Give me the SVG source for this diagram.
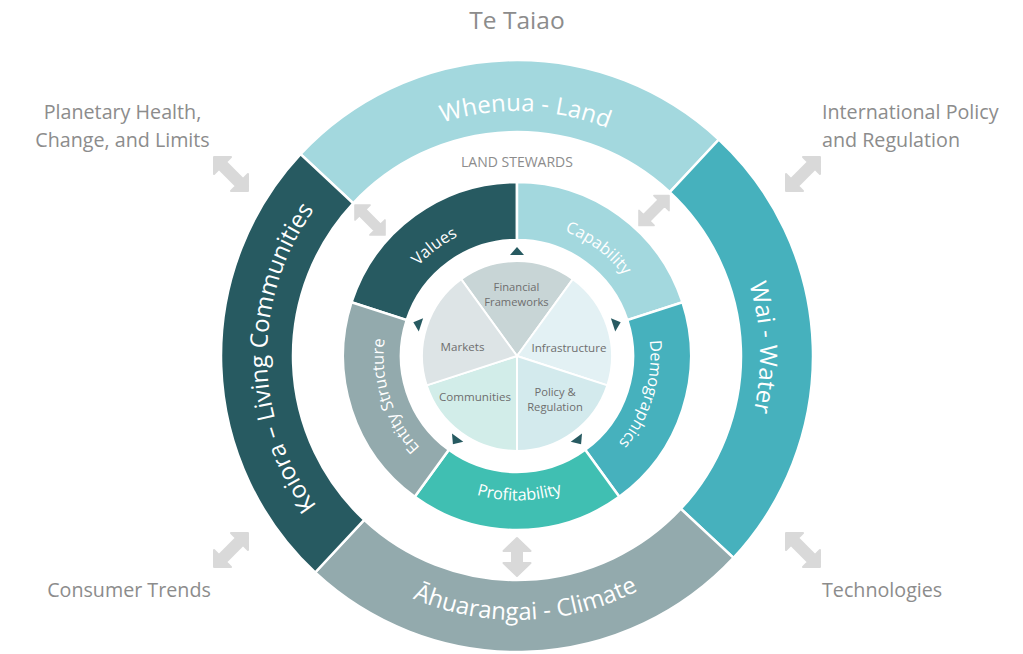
<svg xmlns="http://www.w3.org/2000/svg" width="1023" height="654" viewBox="0 0 1023 654">
<style>
.seg{stroke:#fff;stroke-width:2.5}
.pie{stroke:#fff;stroke-width:2}
.f{font-family:"Open Sans","Noto Sans","DejaVu Sans",sans-serif}
.ot{font-size:24px;fill:#fff}
.mt{font-size:16.3px;fill:#fff}
.pt{font-size:11.6px;fill:#6e6e6e;text-anchor:middle}
.pt2{font-size:11.2px}
.lbl{font-size:19.7px;fill:#8c8c8c}
.arr{fill:#d9d9d9;stroke:#d9d9d9;stroke-width:2;stroke-linejoin:round}
.tri{fill:#275a61}
</style>
<defs>
<path id="pW" d="M 349.91 176.82 A 245 245 0 0 1 696.18 188.91"/>
<path id="pWa" d="M 682.73 178.28 A 243 243 0 0 1 694.72 521.73"/>
<path id="pC" d="M 336.95 549.08 A 264 264 0 0 0 710.08 536.05"/>
<path id="pK" d="M 341.77 534.31 A 250 250 0 0 1 338.69 180.77"/>
<path id="pV" d="M 386.92 325.97 A 133.5 133.5 0 0 1 523.99 222.68"/>
<path id="pCa" d="M 510.01 222.68 A 133.5 133.5 0 0 1 647.08 325.97"/>
<path id="pD" d="M 639.89 303.84 A 133.5 133.5 0 0 1 589.71 467.96"/>
<path id="pE" d="M 446.26 469.21 A 133.5 133.5 0 0 1 393.22 305.99"/>
<path id="pP" d="M 426.06 468.30 A 144.5 144.5 0 0 0 611.80 465.06"/>
<path id="dArr" d="M -24 0 L -12 -12 L -12 -5 L 12 -5 L 12 -12 L 24 0 L 12 12 L 12 5 L -12 5 L -12 12 Z"/>
<path id="vArr" d="M 0 -19 L 13.5 -6 L 5 -6 L 5 6 L 13.5 6 L 0 19 L -13.5 6 L -5 6 L -5 -6 L -13.5 -6 Z"/>
<path id="tri" d="M -7 -101 L 7 -101 L 0 -109 Z"/>
</defs>

<text class="f" x="517" y="29" text-anchor="middle" font-size="24.5" fill="#8c8c8c">Te Taiao</text>

<g id="outer-ring">
<g id="whenua">
<path class="seg" fill="#a3d8de" d="M 300.52 154.13 A 296 296 0 0 1 718.87 139.52 L 669.77 192.18 A 224 224 0 0 0 353.18 203.23 Z"/>
<text class="f ot"><textPath href="#pW" startOffset="50%" text-anchor="middle">Whenua - Land</textPath></text>
</g>
<g id="wai">
<path class="seg" fill="#46b1bd" d="M 718.87 139.52 A 296 296 0 0 1 733.48 557.87 L 680.82 508.77 A 224 224 0 0 0 669.77 192.18 Z"/>
<text class="f ot"><textPath href="#pWa" startOffset="50%" text-anchor="middle">Wai - Water</textPath></text>
</g>
<g id="ahuarangai">
<path class="seg" fill="#93aaad" d="M 733.48 557.87 A 296 296 0 0 1 315.13 572.48 L 364.23 519.82 A 224 224 0 0 0 680.82 508.77 Z"/>
<text class="f ot"><textPath href="#pC" startOffset="50%" text-anchor="middle">Āhuarangai - Climate</textPath></text>
</g>
<g id="koiora">
<path class="seg" fill="#275a61" d="M 315.13 572.48 A 296 296 0 0 1 300.52 154.13 L 353.18 203.23 A 224 224 0 0 0 364.23 519.82 Z"/>
<text class="f ot" font-size="22.8"><textPath href="#pK" startOffset="50%" text-anchor="middle">Koiora – Living Communities</textPath></text>
</g>
</g>

<text id="land-stewards" class="f" x="517" y="167.3" text-anchor="middle" font-size="14" fill="#8c8c8c">LAND STEWARDS</text>

<g id="middle-ring">
<g id="values">
<path class="seg" fill="#275a61" d="M 351.52 302.23 A 174 174 0 0 1 517 182 L 517 240 A 116 116 0 0 0 406.68 320.15 Z"/>
<text class="f mt"><textPath href="#pV" startOffset="50%" text-anchor="middle">Values</textPath></text>
</g>
<g id="capability">
<path class="seg" fill="#a3d8de" d="M 517 182 A 174 174 0 0 1 682.48 302.23 L 627.32 320.15 A 116 116 0 0 0 517 240 Z"/>
<text class="f mt"><textPath href="#pCa" startOffset="50%" text-anchor="middle">Capability</textPath></text>
</g>
<g id="demographics">
<path class="seg" fill="#46b1bd" d="M 682.48 302.23 A 174 174 0 0 1 619.28 496.77 L 585.18 449.85 A 116 116 0 0 0 627.32 320.15 Z"/>
<text class="f mt"><textPath href="#pD" startOffset="50%" text-anchor="middle">Demographics</textPath></text>
</g>
<g id="profitability">
<path class="seg" fill="#40bfb2" d="M 619.28 496.77 A 174 174 0 0 1 414.72 496.77 L 448.82 449.85 A 116 116 0 0 0 585.18 449.85 Z"/>
<text class="f mt"><textPath href="#pP" startOffset="50%" text-anchor="middle">Profitability</textPath></text>
</g>
<g id="entity-structure">
<path class="seg" fill="#93aaad" d="M 414.72 496.77 A 174 174 0 0 1 351.52 302.23 L 406.68 320.15 A 116 116 0 0 0 448.82 449.85 Z"/>
<text class="f mt"><textPath href="#pE" startOffset="50%" text-anchor="middle">Entity Structure</textPath></text>
</g>
</g>

<g id="pie">
<g id="financial-frameworks">
<path class="pie" fill="#c8d5d6" d="M 517 356 L 461.16 279.14 A 95 95 0 0 1 572.84 279.14 Z"/>
<text class="f pt pt2" x="516.5" y="290.6">Financial<tspan x="516.5" dy="15.4">Frameworks</tspan></text>
</g>
<g id="infrastructure">
<path class="pie" fill="#e3f1f4" d="M 517 356 L 572.84 279.14 A 95 95 0 0 1 607.35 385.36 Z"/>
<text class="f pt" x="569" y="351.5">Infrastructure</text>
</g>
<g id="policy-regulation">
<path class="pie" fill="#d3eaed" d="M 517 356 L 607.35 385.36 A 95 95 0 0 1 517 451 Z"/>
<text class="f pt pt2" x="555" y="395.6">Policy &amp;<tspan x="555" dy="15.4">Regulation</tspan></text>
</g>
<g id="communities">
<path class="pie" fill="#d2ede9" d="M 517 356 L 517 451 A 95 95 0 0 1 426.65 385.36 Z"/>
<text class="f pt" x="475" y="401">Communities</text>
</g>
<g id="markets">
<path class="pie" fill="#dde4e6" d="M 517 356 L 426.65 385.36 A 95 95 0 0 1 461.16 279.14 Z"/>
<text class="f pt" x="462.5" y="351">Markets</text>
</g>
</g>

<g id="connectors">
<g id="cycle-markers" class="tri">
<use href="#tri" transform="translate(517 356)"/>
<use href="#tri" transform="translate(517 356) rotate(72)"/>
<use href="#tri" transform="translate(517 356) rotate(144)"/>
<use href="#tri" transform="translate(517 356) rotate(216)"/>
<use href="#tri" transform="translate(517 356) rotate(288)"/>
</g>
<g id="arrows" class="arr">
<use href="#dArr" transform="translate(231 174) rotate(45)"/>
<use href="#dArr" transform="translate(803 174) rotate(-45)"/>
<use href="#dArr" transform="translate(231 550) rotate(-45)"/>
<use href="#dArr" transform="translate(803 550) rotate(45)"/>
<use href="#dArr" transform="translate(370 220) rotate(45) scale(0.88)"/>
<use href="#dArr" transform="translate(654 210.5) rotate(-45) scale(0.88)"/>
<use href="#vArr" transform="translate(517 557)"/>
</g>
</g>

<g id="external-labels">
<text id="planetary" class="f lbl" x="122.5" y="119.3" text-anchor="middle">Planetary Health,<tspan x="122.5" dy="27.4">Change, and Limits</tspan></text>
<text id="international" class="f lbl" x="822" y="119.3">International Policy<tspan x="822" dy="27.4">and Regulation</tspan></text>
<text id="consumer" class="f lbl" x="129" y="596.7" text-anchor="middle">Consumer Trends</text>
<text id="technologies" class="f lbl" x="822" y="596.7">Technologies</text>
</g>
</svg>
